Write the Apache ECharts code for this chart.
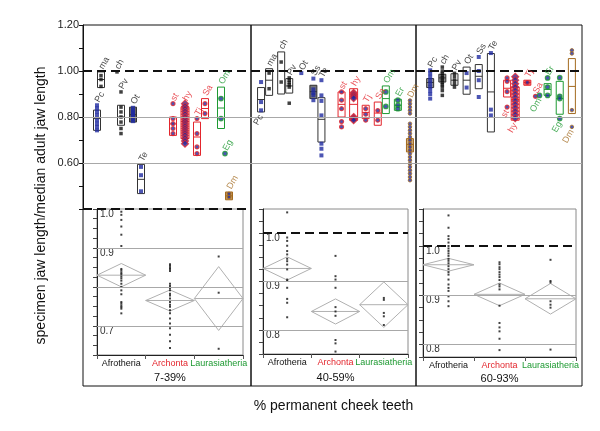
<!DOCTYPE html>
<html><head><meta charset="utf-8">
<script src="https://cdn.jsdelivr.net/npm/echarts@6/dist/echarts.min.js"></script>
<style>html,body{margin:0;padding:0;background:#fff}#c{width:600px;height:431px}</style>
</head><body><div id="c"></div>
<script>
// ================= DATA =================
// taxon slots per panel ('' = empty spacing slot on the category axis)
const slots1 = ['','','','Pc','ma','','','','ch','Pv','','','Ot','','Te','','','','','','','','st','','','hy','','','Tj','','Sa','','','','Om','Eg','Dm','','','','',''];
const slots2 = ['','','Pc','','ma','','','ch','','Pv','','','Ot','','','Ss','','Te','','','','','st','','','hy','','','Tj','','','Sa','','Om','','','Er','','','Dm',''];
const slots3 = ['','','','Pc','','','ch','','','Pv','','','Ot','','','Ss','','','Te','','','','st','','hy','','','Tj','','Sa','Om','','Er','','','Eg','','','Dm','',''];

// upper panels: specimen values per taxon
const pts1 = {
  Pc:[0.851,0.837,0.822,0.807,0.786,0.771,0.757,0.742],
  ma:[0.980,0.963,0.933],
  ch:[0.996],
  Pv:[0.909,0.843,0.822,0.800,0.778,0.750,0.728],
  Ot:[0.840,0.830,0.822,0.815,0.808,0.800,0.790,0.782],
  Te:[0.583,0.547,0.477],
  st:[0.858,0.793,0.771,0.750,0.728],
  hy:[0.858,0.846,0.835,0.824,0.812,0.800,0.790,0.780,0.770,0.760,0.750,0.740,0.730,0.720,0.708,0.696,0.684],
  Tj:[0.793,0.728,0.670,0.641],
  Sa:[0.858,0.815],
  Om:[0.880,0.793],
  Eg:[0.641],
  Dm:[0.466,0.452]
};
const box1 = {Pc:[0.742,0.793,0.830], ma:[0.928,0.963,0.996], Pv:[0.764,0.800,0.851], Ot:[0.778,0.810,0.843],
  Te:[0.467,0.529,0.594], st:[0.720,0.770,0.800], hy:[0.706,0.780,0.843], Tj:[0.633,0.713,0.778],
  Sa:[0.793,0.837,0.880], Om:[0.750,0.839,0.930], Dm:[0.440,0.457,0.474]};

const pts2 = {
  Pc:[0.952,0.865,0.829],
  ma:[0.991,0.923],
  ch:[1.039,0.952],
  Pv:[0.970,0.960,0.950,0.940,0.930,0.860],
  Ot:[0.991],
  Ss:[0.967,0.920,0.905,0.895,0.873],
  Te:[0.960,0.894,0.870,0.807,0.684,0.662,0.633],
  st:[0.909,0.873,0.836,0.780,0.757],
  hy:[0.905,0.898,0.890,0.882,0.800,0.793,0.786],
  Tj:[0.836,0.812,0.786],
  Sa:[0.828,0.786],
  Om:[0.909,0.846],
  Er:[0.873,0.851,0.836],
  Dm:[0.872,0.858,0.843,0.829,0.815,0.771,0.757,0.742,0.728,0.713,0.699,0.684,0.670,0.655,0.641,0.626,0.612,0.597,0.583,0.568,0.554,0.539,0.525]
};
const box2 = {Pc:[0.822,0.876,0.928], ma:[0.894,0.960,1.010], ch:[0.900,1.000,1.083], Pv:[0.904,0.935,0.967],
  Ss:[0.880,0.910,0.938], Te:[0.691,0.790,0.884], st:[0.800,0.855,0.909], hy:[0.786,0.855,0.923],
  Tj:[0.793,0.820,0.851], Sa:[0.764,0.817,0.865], Om:[0.815,0.880,0.935], Er:[0.829,0.851,0.877], Dm:[0.648,0.680,0.706]};

const pts3 = {
  Pc:[1.003,0.990,0.975,0.960,0.945,0.930,0.915,0.900,0.880],
  ch:[1.017,1.000,0.990,0.980,0.970,0.960,0.950,0.940,0.930,0.915,0.894],
  Pv:[0.990,0.975,0.960,0.945,0.930],
  Ot:[0.991,0.928],
  Ss:[1.061,1.000,0.960,0.887],
  Te:[1.078,0.832,0.807],
  st:[0.970,0.955,0.910,0.843],
  hy:[0.975,0.960,0.945,0.930,0.915,0.900,0.885,0.870,0.855,0.840,0.825,0.810,0.795],
  Tj:[0.950],
  Sa:[0.890],
  Om:[0.894],
  Er:[0.970,0.930,0.894],
  Eg:[0.971,0.890,0.880,0.793],
  Dm:[1.090,1.076,0.830,0.757]
};
const box3 = {Pc:[0.928,0.950,0.967], ch:[0.952,0.970,0.986], Pv:[0.938,0.960,0.988], Ot:[0.899,0.960,1.017],
  Ss:[0.923,0.977,1.028], Te:[0.735,0.909,1.076], st:[0.887,0.925,0.960], hy:[0.786,0.876,0.930],
  Tj:[0.938,0.950,0.960], Er:[0.894,0.920,0.945], Eg:[0.812,0.880,0.955], Dm:[0.815,0.933,1.054]};

// lower insets: groups, specimen values, mean diamonds [mean, half-height]
const groups = ['Afrotheria','Archonta','Laurasiatheria'];
const inset1Afro = [0.993,0.985,0.972,0.955,0.934,0.905,0.846,0.842,0.837,0.833,0.827,0.822,0.816,0.808,0.800,0.791,0.781,0.761,0.757,0.752,0.748,0.744,0.732];
const inset1Arch = [0.858,0.854,0.850,0.846,0.841,0.808,0.802,0.797,0.791,0.782,0.778,0.770,0.761,0.754,0.749,0.740,0.732,0.719,0.706,0.694,0.677,0.660,0.643];
const inset1Laur = [0.878,0.785,0.641];
const inset1Mean = [0.830,0.765,0.770];
const inset1Half = [0.030,0.027,0.082];

const inset2Afro = [1.043,0.991,0.984,0.974,0.963,0.956,0.947,0.942,0.935,0.925,0.904,0.901,0.887,0.864,0.856,0.826];
const inset2Arch = [0.953,0.911,0.904,0.887,0.847,0.838,0.829,0.779,0.772,0.755];
const inset2Laur = [0.866,0.862,0.835,0.828,0.810];
const inset2Mean = [0.927,0.838,0.852];
const inset2Half = [0.024,0.026,0.047];

const inset3Afro = [1.062,1.037,1.020,1.014,1.007,1.000,0.995,0.990,0.985,0.980,0.974,0.970,0.965,0.959,0.953,0.947,0.942,0.932,0.922,0.915,0.909,0.898,0.888,0.878];
const inset3Arch = [0.967,0.963,0.957,0.953,0.947,0.942,0.937,0.931,0.922,0.918,0.912,0.879,0.844,0.835,0.827,0.812,0.789];
const inset3Laur = [0.972,0.929,0.926,0.888,0.881,0.875,0.790];
const inset3Mean = [0.962,0.902,0.893];
const inset3Half = [0.013,0.023,0.031];

// tick labels
const upperTickLabels = ['1.20','1.00','0.80','0.60'];
const inset1TickLabels = ['1.0','0.9','0.7'];
const inset2TickLabels = ['1.0','0.9','0.8'];
const inset3TickLabels = ['1.0','0.9','0.8'];
const panelNames = ['7-39%','40-59%','60-93%'];
const xTitle = '% permanent cheek teeth';
const yTitle = 'specimen jaw length/median adult jaw length';

// ================= STYLE =================
const FONT = "'Liberation Sans', Arial, sans-serif";
const BLUE = '#1f2aa0', RED = '#e3262d', GREEN = '#1e9a32', BROWN = '#a36a1f', INK = '#111', GL = '#a8a8a8';
const afro = ['Pc','ma','ch','Pv','Ot','Ss','Te'], arch = ['st','hy','Tj','Sa'];
function markerOf(t){
  if (['Pc','Ot','Ss','Te'].includes(t)) return {symbol:'rect', size:4, fill:BLUE, stroke:BLUE, bw:0};
  if (afro.includes(t)) return {symbol:'rect', size:3.5, fill:INK, stroke:INK, bw:0};
  if (t==='hy') return {symbol:'diamond', size:7, fill:BLUE, stroke:RED, bw:1.2};
  if (arch.includes(t)) return {symbol:'circle', size:4, fill:BLUE, stroke:RED, bw:1.2};
  if (t==='Dm') return {symbol:'circle', size:3.5, fill:BLUE, stroke:BROWN, bw:1};
  return {symbol:'circle', size:4.5, fill:BLUE, stroke:GREEN, bw:1.2};
}
function colorOf(t){
  if (afro.includes(t)) return '#333';
  if (arch.includes(t)) return RED;
  if (t==='Dm') return BROWN;
  return GREEN;
}
const boxFill1 = {Ot:'#666', Dm:'#c09050'};
const boxFill2 = {Ss:'#777', Dm:'#d0b080'};
const boxFill3 = {Pc:'#999', ch:'#999', Tj:'#f08080'};
const below1 = [], below2 = ['Pc'], below3 = ['st','hy','Om','Eg','Dm'];

// ================= BUILDERS =================
function pointSeries(slots, pts, gi){
  const data = [];
  Object.keys(pts).forEach(t => {
    const idx = slots.indexOf(t), m = markerOf(t);
    pts[t].forEach(v => data.push({value:[idx, v], symbol:m.symbol, symbolSize:m.size,
      itemStyle:{color:m.fill, borderColor:m.stroke, borderWidth:m.bw}}));
  });
  return {type:'scatter', xAxisIndex:gi, yAxisIndex:gi, data, z:4, silent:true};
}
function boxSeries(slots, box, fills, gi){
  const names = Object.keys(box);
  return {type:'custom', xAxisIndex:gi, yAxisIndex:gi, z:3, silent:true,
    data: names.map(t => [slots.indexOf(t), box[t][0], box[t][1], box[t][2]]),
    renderItem: (params, api) => {
      const t = names[params.dataIndex], x = api.value(0);
      const top = api.coord([x, api.value(3)]), bot = api.coord([x, api.value(1)]), med = api.coord([x, api.value(2)]);
      const w = t==='hy' ? 8 : 7, col = colorOf(t);
      return {type:'group', children:[
        {type:'rect', shape:{x:top[0]-w/2, y:top[1], width:w, height:bot[1]-top[1]}, style:{fill:fills[t]||'#fff', stroke:col, lineWidth:1}},
        {type:'line', shape:{x1:top[0]-w/2, y1:med[1], x2:top[0]+w/2, y2:med[1]}, style:{stroke:col, lineWidth:1}}
      ]};
    }};
}
function labelSeries(slots, pts, box, below, gi){
  const data = [];
  slots.forEach((t, idx) => {
    if (!t) return;
    const vals = (pts[t]||[]).concat(box[t] ? [box[t][0], box[t][2]] : []);
    const b = below.includes(t);
    data.push({value:[idx, b ? Math.min(...vals) : Math.max(...vals)],
      label:{show:true, formatter:t, position:b?'bottom':'top', rotate:60, align:b?'right':'left',
        verticalAlign:'middle', distance:3, color:colorOf(t)==='#333'?'#111':colorOf(t), fontSize:9, fontFamily:FONT}});
  });
  return {type:'scatter', xAxisIndex:gi, yAxisIndex:gi, data, symbolSize:1, itemStyle:{color:'rgba(0,0,0,0)'}, z:5, silent:true};
}
const dashed = {color:'#111', width:1.8, type:[9,5]};
const grey = {color:GL, width:1.2, type:'solid'};
function lineSeries(gi, lines){
  return {type:'line', xAxisIndex:gi, yAxisIndex:gi, data:[], z:1, silent:true,
    markLine:{silent:true, symbol:['none','none'], label:{show:false}, animation:false,
      data: lines.map(l => ({yAxis:l[0], lineStyle:l[1]}))}};
}
function dotSeries(lists, gi){
  const data = [];
  lists.forEach((arr, k) => arr.forEach(v => data.push([k, v])));
  return {type:'scatter', xAxisIndex:gi, yAxisIndex:gi, data, symbol:'rect', symbolSize:2, itemStyle:{color:INK}, z:4, silent:true};
}
function diamondSeries(means, halves, gi){
  return {type:'custom', xAxisIndex:gi, yAxisIndex:gi, z:3, silent:true,
    data: means.map((m, k) => [k, m, halves[k]]),
    renderItem: (params, api) => {
      const x = api.value(0), m = api.value(1), h = api.value(2);
      const c = api.coord([x, m]), t = api.coord([x, m+h]), b = api.coord([x, m-h]);
      const bw = api.size([1, 0])[0], l = c[0]-bw/2, r = c[0]+bw/2;
      return {type:'group', children:[
        {type:'polygon', shape:{points:[[l,c[1]],[c[0],t[1]],[r,c[1]],[c[0],b[1]]]}, style:{fill:'none', stroke:'#b0b0b0', lineWidth:1}},
        {type:'line', shape:{x1:l, y1:c[1], x2:r, y2:c[1]}, style:{stroke:'#b0b0b0', lineWidth:1}}
      ]};
    }};
}
function insetX(gi, name, gap){
  const cols = [INK, RED, GREEN];
  return {gridIndex:gi, type:'category', data: groups.map((g,k)=>({value:g, textStyle:{color:cols[k]}})),
    axisLine:{lineStyle:{color:'#222', width:1}}, axisTick:{show:true, length:4, lineStyle:{color:'#555'}},
    axisLabel:{interval:0, fontSize:9, margin:4, fontFamily:FONT},
    name, nameLocation:'middle', nameGap:gap, nameTextStyle:{fontSize:11, color:INK, fontFamily:FONT}};
}
function insetY(gi, min, max, labels){
  return {gridIndex:gi, type:'value', min, max, interval:0.025,
    axisLine:{show:true, lineStyle:{color:'#222', width:1}}, axisTick:{show:true, length:4, lineStyle:{color:'#444'}},
    splitLine:{show:false},
    axisLabel:{inside:true, margin:3, verticalAlign:'top', fontSize:10, color:'#333', fontFamily:FONT,
      formatter: v => { const s = v.toFixed(1); return (Math.abs(v*10-Math.round(v*10))<1e-6 && labels.includes(s)) ? s : ''; }},
  };
}
const hiddenVal = gi => ({gridIndex:gi, type:'value', show:false});
const upperY = (gi, show) => ({gridIndex:gi, type:'value', min:0.4, max:1.2, interval:0.1, show,
  axisLine:{show:true, lineStyle:{color:'#111', width:1}}, axisTick:{show:true, length:4, lineStyle:{color:'#111'}},
  splitLine:{show:false},
  axisLabel:{margin:4, fontSize:11, color:'#222', fontFamily:FONT,
    formatter: v => upperTickLabels.includes(v.toFixed(2)) ? v.toFixed(2) : ''}});

const frame = {show:true, borderColor:'#111', borderWidth:1, backgroundColor:'transparent'};
const insetFrame = {show:true, borderColor:'#8a8a8a', borderWidth:1, backgroundColor:'transparent'};

const option = {
  animation:false,
  textStyle:{fontFamily:FONT},
  grid:[
    Object.assign({left:83, top:25, width:168, height:361}, frame),
    Object.assign({left:251, top:25, width:165, height:361}, frame),
    Object.assign({left:416, top:25, width:166, height:361}, frame),
    {left:83, top:25, width:168, height:184},
    {left:251, top:25, width:165, height:184},
    {left:416, top:25, width:166, height:184},
    Object.assign({left:97, top:209, width:146, height:146}, insetFrame),
    Object.assign({left:263, top:209, width:145, height:145}, insetFrame),
    Object.assign({left:423, top:209, width:153, height:148}, insetFrame)
  ],
  xAxis:[
    hiddenVal(0),
    {gridIndex:1, type:'value', axisLine:{show:false}, axisTick:{show:false}, axisLabel:{show:false}, splitLine:{show:false},
      name:xTitle, nameLocation:'middle', nameGap:13, nameTextStyle:{fontSize:14, color:INK, fontFamily:FONT}},
    hiddenVal(2),
    {gridIndex:3, type:'category', data:slots1, show:false},
    {gridIndex:4, type:'category', data:slots2, show:false},
    {gridIndex:5, type:'category', data:slots3, show:false},
    insetX(6, panelNames[0], 17),
    insetX(7, panelNames[1], 18),
    insetX(8, panelNames[2], 16)
  ],
  yAxis:[
    {gridIndex:0, type:'value', axisLine:{show:false}, axisTick:{show:false}, axisLabel:{show:false}, splitLine:{show:false},
      name:yTitle, nameLocation:'middle', nameGap:35, nameTextStyle:{fontSize:14, color:INK, fontFamily:FONT}},
    hiddenVal(1), hiddenVal(2),
    upperY(3, true), upperY(4, false), upperY(5, false),
    insetY(6, 0.625, 1.0, inset1TickLabels),
    insetY(7, 0.75, 1.05, inset2TickLabels),
    insetY(8, 0.775, 1.075, inset3TickLabels)
  ],
  series:[
    lineSeries(3, [[1.0,dashed],[0.8,grey],[0.6,grey],[0.4,dashed]]),
    lineSeries(4, [[1.0,dashed],[0.8,grey],[0.6,grey]]),
    lineSeries(5, [[1.0,dashed],[0.8,grey],[0.6,grey]]),
    boxSeries(slots1, box1, boxFill1, 3), boxSeries(slots2, box2, boxFill2, 4), boxSeries(slots3, box3, boxFill3, 5),
    pointSeries(slots1, pts1, 3), pointSeries(slots2, pts2, 4), pointSeries(slots3, pts3, 5),
    labelSeries(slots1, pts1, box1, below1, 3), labelSeries(slots2, pts2, box2, below2, 4), labelSeries(slots3, pts3, box3, below3, 5),
    lineSeries(6, [[0.9,grey],[0.8,grey],[0.7,grey]]),
    lineSeries(7, [[1.0,dashed],[0.9,grey],[0.8,grey]]),
    lineSeries(8, [[1.0,dashed],[0.9,grey],[0.8,grey]]),
    diamondSeries(inset1Mean, inset1Half, 6), diamondSeries(inset2Mean, inset2Half, 7), diamondSeries(inset3Mean, inset3Half, 8),
    dotSeries([inset1Afro, inset1Arch, inset1Laur], 6), dotSeries([inset2Afro, inset2Arch, inset2Laur], 7), dotSeries([inset3Afro, inset3Arch, inset3Laur], 8)
  ]
};
echarts.init(document.getElementById('c'), null, {renderer:'canvas'}).setOption(option);
</script></body></html>
